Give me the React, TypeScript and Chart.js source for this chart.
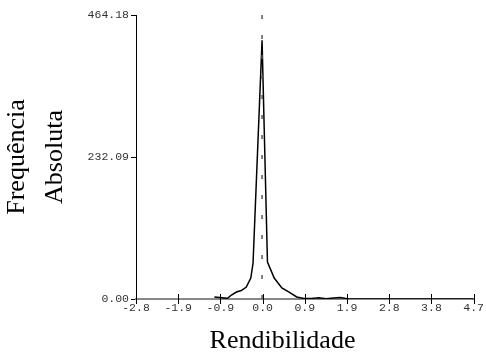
import React, { useEffect, useRef } from "react";
import { Chart, registerables } from "chart.js";

Chart.register(...registerables);

// Data (frequency polygon)
const curveX = [-1.06, -0.77, -0.68, -0.57, -0.46, -0.35, -0.25, -0.2, 0.0, 0.12, 0.27, 0.44, 0.6, 0.77, 0.93, 1.1, 1.26, 1.42, 1.59, 1.74, 1.92, 4.7];
const curveY = [3.3, 1.1, 6.5, 11.4, 13.9, 19.6, 34.3, 58.8, 423, 60.5, 34.3, 18, 11.4, 3.3, 0.8, 1.0, 2.0, 0.5, 1.5, 2.5, 0, 0];

const refLineX = [0, 0];
const refLineY = [0, 464.18];

const xTickValues = [-2.8, -1.8625, -0.925, 0.0125, 0.95, 1.8875, 2.825, 3.7625, 4.7];
const xTickLabels = ["-2.8", "-1.9", "-0.9", "0.0", "0.9", "1.9", "2.8", "3.8", "4.7"];
const yTickValues = [0, 232.09, 464.18];
const yTickLabels = ["0.00", "232.09", "464.18"];

const xTitle = "Rendibilidade";
const yTitle = ["Frequência", "Absoluta"];

const tickFont = { family: "'Liberation Mono', 'DejaVu Sans Mono', monospace", size: 11.5 };
const titleFamily = "'Liberation Serif', 'Times New Roman', serif";

export default function App() {
  const ref = useRef<HTMLCanvasElement | null>(null);

  useEffect(() => {
    if (!ref.current) return;
    const crossTicks = {
      id: "crossTicks",
      afterDraw(chart: any) {
        const { ctx, chartArea } = chart;
        const xs = chart.scales.x;
        ctx.save();
        ctx.strokeStyle = "#000";
        ctx.lineWidth = 1;
        xs.ticks.forEach((t: any) => {
          const px = Math.round(xs.getPixelForValue(t.value)) + 0.5;
          ctx.beginPath();
          ctx.moveTo(px, chartArea.bottom - 5);
          ctx.lineTo(px, chartArea.bottom + 5);
          ctx.stroke();
        });
        // x-axis title
        ctx.fillStyle = "#000";
        ctx.font = `26px ${titleFamily}`;
        ctx.textAlign = "center";
        ctx.textBaseline = "middle";
        ctx.fillText(xTitle, 282.5, 341);
        ctx.restore();
      },
    };

    const chart = new Chart(ref.current, {
      type: "line",
      data: {
        datasets: [
          {
            data: refLineX.map((x, i) => ({ x, y: refLineY[i] })),
            borderColor: "#555",
            borderWidth: 1.5,
            borderDash: [4, 16],
            pointRadius: 0,
            fill: false,
          },
          {
            data: curveX.map((x, i) => ({ x, y: curveY[i] })),
            borderColor: "#000",
            borderWidth: 1.5,
            pointRadius: 0,
            tension: 0,
            fill: false,
          },
        ],
      },
      options: {
        animation: false,
        responsive: false,
        layout: { padding: { left: 0, top: 15, right: 10, bottom: 0 } },
        plugins: { legend: { display: false }, tooltip: { enabled: false } },
        scales: {
          x: {
            type: "linear",
            min: -2.8,
            max: 4.7,
            afterFit: (s: any) => {
              s.height = 58;
            },
            afterBuildTicks: (s: any) => {
              s.ticks = xTickValues.map((v) => ({ value: v }));
            },
            ticks: {
              autoSkip: false,
              maxRotation: 0,
              padding: 2,
              color: "#333",
              font: tickFont,
              callback: (_v: any, i: number) => xTickLabels[i],
            },
            grid: { display: false, drawTicks: false, tickLength: 0 },
            border: { display: true, color: "#888", width: 2 },
          },
          y: {
            type: "linear",
            min: 0,
            max: 464.18,
            afterFit: (s: any) => {
              s.width = 136;
            },
            afterBuildTicks: (s: any) => {
              s.ticks = yTickValues.map((v) => ({ value: v }));
            },
            ticks: {
              autoSkip: false,
              padding: 2,
              color: "#333",
              font: tickFont,
              callback: (_v: any, i: number) => yTickLabels[i],
            },
            grid: { display: true, drawOnChartArea: false, drawTicks: true, tickLength: 5, color: "#000" },
            border: { display: true, color: "#000", width: 1 },
            title: {
              display: true,
              text: yTitle,
              color: "#000",
              font: { family: titleFamily, size: 26, lineHeight: 1.46 },
              padding: { top: -2, bottom: 0 },
            },
          },
        },
      },
      plugins: [crossTicks],
    });
    return () => chart.destroy();
  }, []);

  return (
    <div style={{ position: "fixed", left: 0, top: 0, width: 486, height: 357, background: "#fff" }}>
      <canvas ref={ref} width={486} height={357} style={{ width: 486, height: 357, display: "block" }} />
    </div>
  );
}
